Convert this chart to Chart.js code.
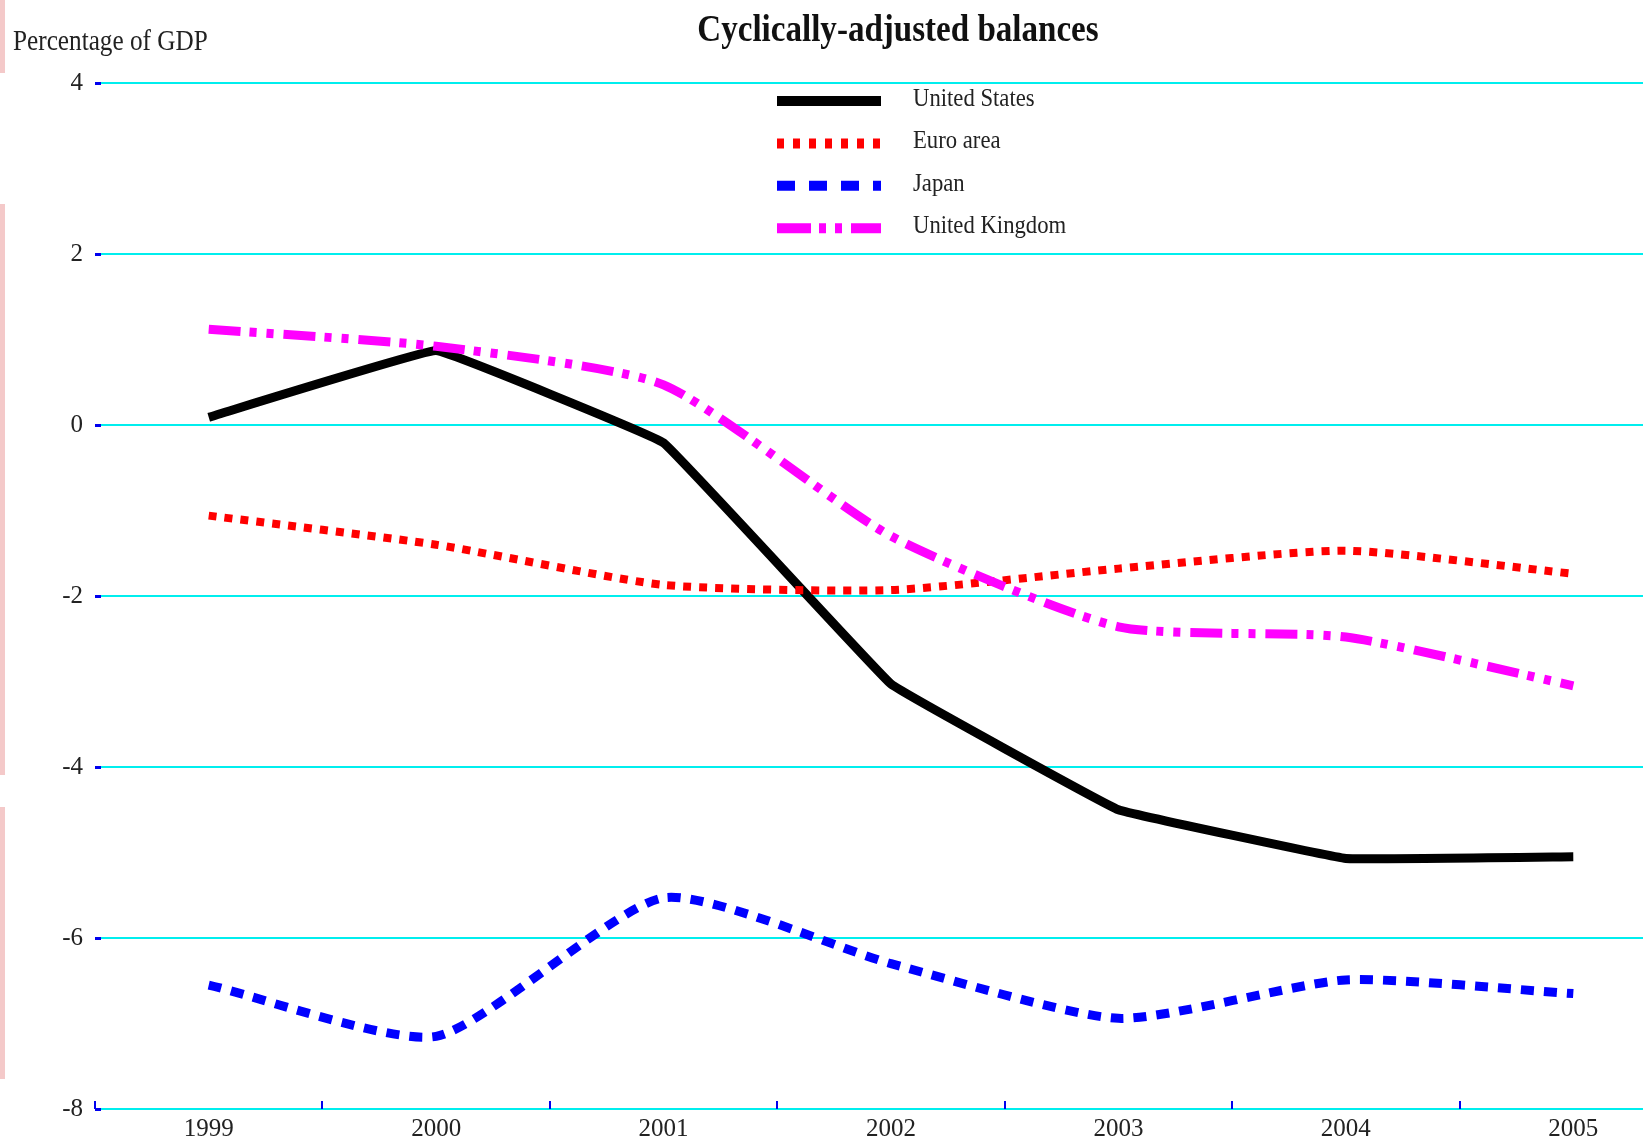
<!DOCTYPE html>
<html>
<head>
<meta charset="utf-8">
<title>Cyclically-adjusted balances</title>
<script src="https://cdn.jsdelivr.net/npm/chart.js@4"></script>
<style>
    html, body { margin: 0; padding: 0; background: #fff; overflow: hidden; }
    #contenedor { position: relative; width: 1643px; height: 1139px; overflow: hidden; }
    #grafico { position: absolute; left: 0; top: 0; }
    .borde { position: absolute; left: 0; width: 5px; background: #f4c9c9; }
</style>
</head>
<body>
<div id="contenedor">
    <canvas id="grafico" width="1700" height="1139"></canvas>
    <div class="borde" style="top:0;height:73px"></div>
    <div class="borde" style="top:204px;height:571px"></div>
    <div class="borde" style="top:807px;height:272px"></div>
</div>
<script>
// Datos (porcentaje del PIB)
const anios = ['1999', '2000', '2001', '2002', '2003', '2004', '2005'];
const estadosUnidos = [0.09, 0.87, -0.21, -3.03, -4.50, -5.07, -5.05];
const zonaEuro = [-1.06, -1.40, -1.87, -1.93, -1.68, -1.47, -1.74];
const japon = [-6.55, -7.15, -5.53, -6.30, -6.94, -6.49, -6.65];
const reinoUnido = [1.12, 0.92, 0.47, -1.30, -2.36, -2.48, -3.05];
const ticksY = [-8, -6, -4, -2, 0, 2, 4];

const FUENTE = 'Liberation Serif, Times New Roman, serif';
const COMPRESION = 0.87; // el texto original está algo comprimido en horizontal

// ---------- Textos, leyenda y marcas azules ----------
const extras = {
    id: 'extras',
    afterDraw(chart) {
        const ctx = chart.ctx;
        const area = chart.chartArea;
        const x = chart.scales.x;
        const y = chart.scales.y;

        // Título
        ctx.save();
        ctx.fillStyle = '#111';
        ctx.font = 'bold 38px ' + FUENTE;
        ctx.textAlign = 'center';
        ctx.textBaseline = 'alphabetic';
        ctx.translate(898, 41);
        ctx.scale(COMPRESION, 1);
        ctx.fillText('Cyclically-adjusted balances', 0, 0);
        ctx.restore();

        // Etiqueta del eje Y
        ctx.save();
        ctx.fillStyle = '#222';
        ctx.font = '29px ' + FUENTE;
        ctx.textAlign = 'left';
        ctx.translate(13, 50);
        ctx.scale(COMPRESION, 1);
        ctx.fillText('Percentage of GDP', 0, 0);
        ctx.restore();

        // Marcas azules en el eje Y
        ctx.save();
        ctx.fillStyle = '#0000ee';
        ticksY.forEach(v => {
            const py = y.getPixelForValue(v);
            ctx.fillRect(area.left, py - 1, 6, 3);
        });

        // Marcas azules entre categorías en el eje X
        const paso = x.getPixelForValue(1) - x.getPixelForValue(0);
        for (let i = 0; i <= anios.length; i++) {
            const px = x.getPixelForValue(0) - paso / 2 + i * paso;
            ctx.fillRect(Math.round(px) - 1, area.bottom - 8, 2, 8);
        }
        ctx.restore();

        // Leyenda
        chart.data.datasets.forEach((ds, i) => {
            const ly = 101 + i * 42.4;
            ctx.save();
            ctx.strokeStyle = ds.borderColor;
            ctx.lineWidth = 10;
            ctx.lineCap = 'butt';
            ctx.setLineDash(ds.legendDash || []);
            ctx.beginPath();
            ctx.moveTo(777, ly);
            ctx.lineTo(881, ly);
            ctx.stroke();
            ctx.restore();

            ctx.save();
            ctx.fillStyle = '#222';
            ctx.font = '25.5px ' + FUENTE;
            ctx.textBaseline = 'middle';
            ctx.translate(913, ly - 2);
            ctx.scale(0.89, 1);
            ctx.fillText(ds.label, 0, 0);
            ctx.restore();
        });
    }
};

new Chart(document.getElementById('grafico'), {
    type: 'line',
    data: {
        labels: anios,
        datasets: [
            {
                label: 'United States',
                data: estadosUnidos,
                borderColor: '#000000',
                borderWidth: 9,
                tension: 0.05,
                order: 4,
                legendDash: []
            },
            {
                label: 'Euro area',
                data: zonaEuro,
                borderColor: '#ff0000',
                borderWidth: 8,
                borderDash: [8, 8],
                tension: 0.2,
                order: 3,
                legendDash: [7, 9]
            },
            {
                label: 'Japan',
                data: japon,
                borderColor: '#0000ff',
                borderWidth: 9,
                borderDash: [13, 10],
                tension: 0.2,
                order: 2,
                legendDash: [18, 14]
            },
            {
                label: 'United Kingdom',
                data: reinoUnido,
                borderColor: '#ff00ff',
                borderWidth: 9,
                borderDash: [32, 9, 7, 10, 7, 10],
                tension: 0.2,
                order: 1,
                legendDash: [34, 8, 7, 9, 7, 9]
            }
        ]
    },
    options: {
        responsive: false,
        animation: false,
        devicePixelRatio: 1,
        layout: { padding: { top: 83, right: 13, left: 0, bottom: 0 } },
        elements: {
            point: { radius: 0, hoverRadius: 0 },
            line: { fill: false, borderCapStyle: 'butt', borderJoinStyle: 'miter' }
        },
        plugins: {
            legend: { display: false },
            title: { display: false },
            tooltip: { enabled: false }
        },
        scales: {
            x: {
                offset: true,
                grid: { display: false },
                border: { display: false },
                ticks: {
                    color: '#222',
                    font: { family: FUENTE, size: 25 },
                    padding: -3,
                    maxRotation: 0
                },
                afterFit: scale => { scale.height = 30; }
            },
            y: {
                min: -8,
                max: 4,
                afterBuildTicks: scale => {
                    scale.ticks = ticksY.map(v => ({ value: v }));
                },
                grid: {
                    color: '#00eeee',
                    lineWidth: 2,
                    drawTicks: false
                },
                border: { display: false },
                ticks: {
                    color: '#222',
                    font: { family: FUENTE, size: 25 },
                    padding: 12,
                    callback: value => String(value)
                },
                afterFit: scale => { scale.width = 95; }
            }
        }
    },
    plugins: [extras]
});
</script>
</body>
</html>
